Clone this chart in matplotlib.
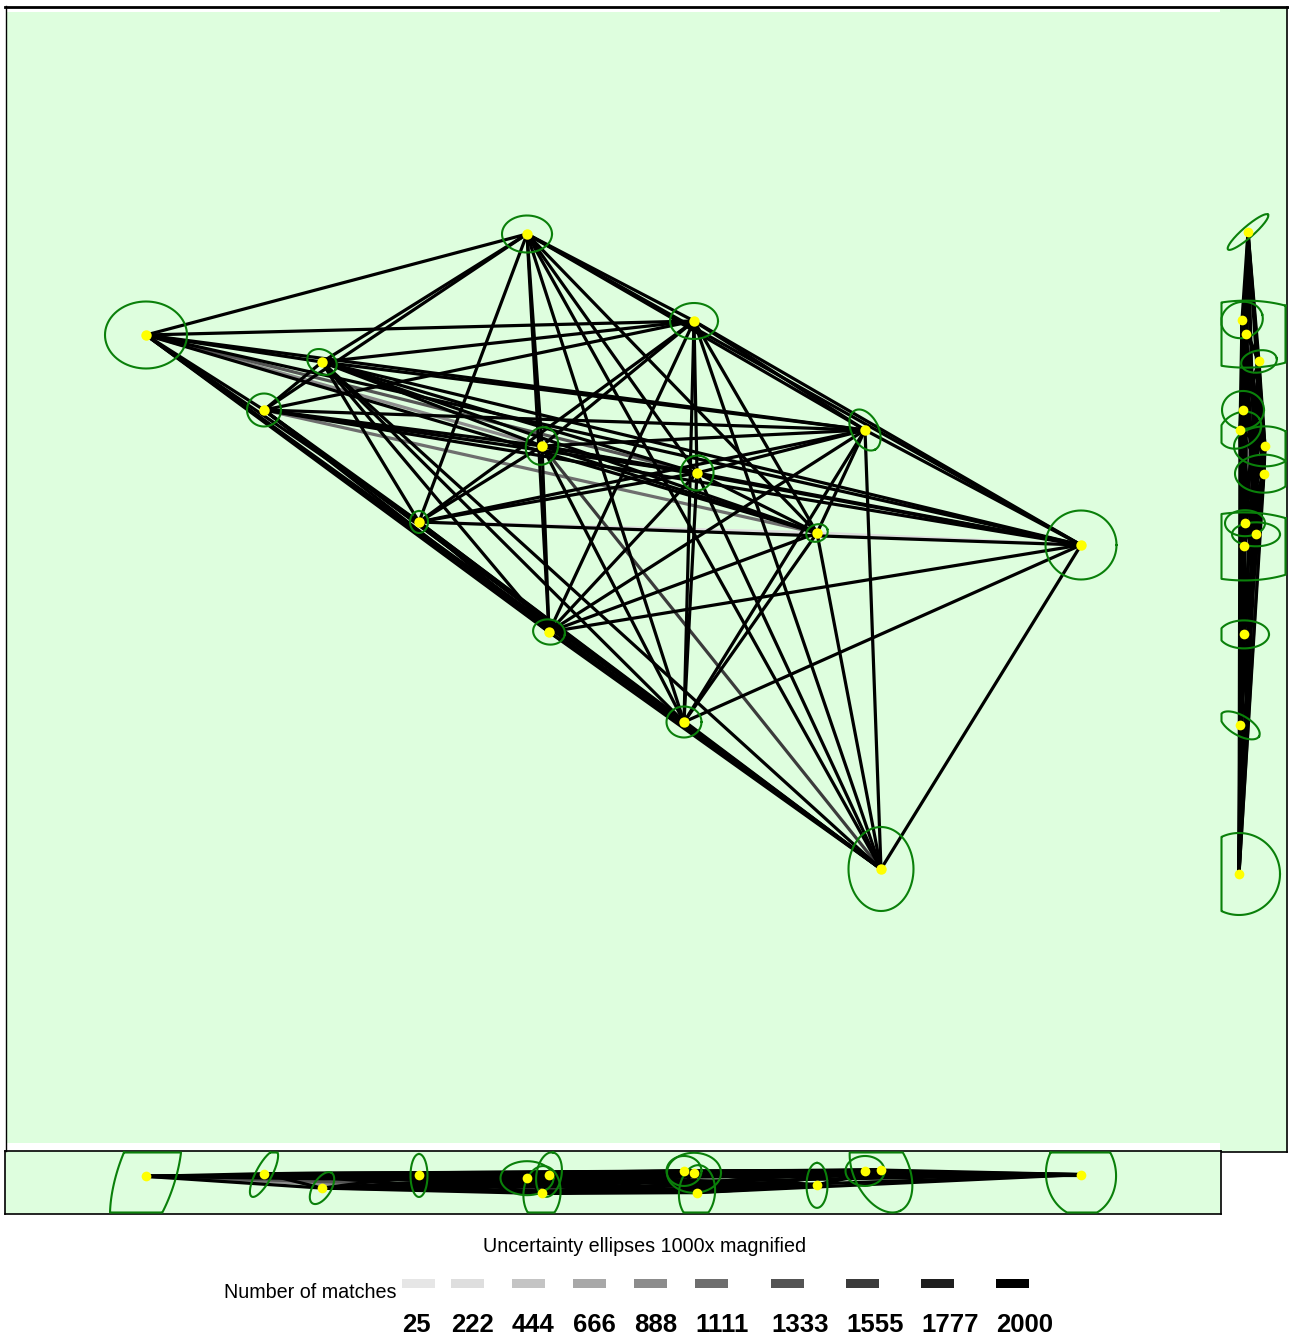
import itertools
import numpy as np
import matplotlib
matplotlib.use("Agg")
import matplotlib.pyplot as plt
from matplotlib.lines import Line2D
from matplotlib.patches import Rectangle
from matplotlib import font_manager

# ---------------- data ----------------
# camera positions (east, north, altitude) in plot units
cam_east = [527, 146, 694, 322, 264, 865, 542, 697, 419, 817, 1081, 549, 684, 881]
cam_north = [766, 665, 679, 638, 590, 570, 554, 527, 478, 467, 455, 368, 278, 131]
cam_alt = [17, 19, 23, 6, 22, 25, 0, 1, 20, 9, 21, 21, 25, 26]

# uncertainty ellipses (1000x magnified): major, minor, angle for each view
top_major = [50, 82, 48, 31, 34, 44, 38, 35, 22, 22, 71, 32, 35, 84]
top_minor = [37, 67, 36, 24, 33, 27, 32, 33, 18, 17, 69, 25, 31, 65]
top_angle = [0, 0, 0, -30, 0, -63, 75, 80, 90, 20, 0, -10, 0, 90]

side_major = [53, 150, 42, 36, 42, 45, 62, 58, 40, 48, 150, 50, 44, 82]
side_minor = [11, 67, 36, 22, 38, 34, 40, 38, 26, 24, 68, 28, 20, 82]
side_angle = [41, 0, 15, 10, 0, 30, 0, 0, 0, 0, 0, 0, -30, 0]

front_major = [53, 150, 54, 36, 52, 39, 55, 55, 43, 45, 84, 45, 35, 90]
front_minor = [34, 58, 40, 18, 16, 30, 37, 36, 17, 21, 70, 25, 30, 55]
front_angle = [0, 72, 0, 58, 62, 0, 85, 85, 90, 90, 95, 80, 0, -65]

# matched image pairs: every pair linked, with these pairs having fewer matches
pair_matches = {(2, 7): 888, (5, 10): 1111, (7, 14): 1555,
                (9, 10): 222, (10, 11): 222, (2, 8): 1333}
default_matches = 2000

legend_values = [25, 222, 444, 666, 888, 1111, 1333, 1555, 1777, 2000]
legend_grays = [0.90, 0.87, 0.77, 0.66, 0.55, 0.43, 0.33, 0.23, 0.12, 0.0]

# ---------------- figure ----------------
W, H = 1289, 1339
fig = plt.figure(figsize=(W / 100, H / 100), dpi=100)
BG = "#DEFEDE"
GREEN = "#0A800A"
plt.rcParams["font.family"] = ["Liberation Sans", "DejaVu Sans"]
installed = {f.name for f in font_manager.fontManager.ttflist}
num_family = ["Liberation Sans Narrow"] if "Liberation Sans Narrow" in installed else ["Liberation Sans"]
num_size = 21 if "Liberation Sans Narrow" in installed else 18.5


def rect(x0, y0, x1, y1):
    return [x0 / W, 1 - y1 / H, (x1 - x0) / W, (y1 - y0) / H]


ax_top = fig.add_axes(rect(6, 12, 1220, 1143))
ax_side = fig.add_axes(rect(1220, 7, 1287, 1152))
ax_front = fig.add_axes(rect(5, 1151, 1221, 1214))

ax_top.set_xlim(6, 1220)
ax_top.set_ylim(-143, 988)
ax_side.set_xlim(45, -22)
ax_side.set_ylim(-144, 988.6)
ax_front.set_xlim(5, 1221)
ax_front.set_ylim(-22.8, 47.2)

for ax in (ax_top, ax_side, ax_front):
    ax.set_facecolor(BG)
    ax.set_xticks([])
    ax.set_yticks([])
    for s in ax.spines.values():
        s.set_color("black")
        s.set_linewidth(1.2)

for s in ("top", "right", "bottom", "left"):
    ax_top.spines[s].set_visible(False)
ax_side.spines["left"].set_visible(False)
ax_side.spines["top"].set_visible(False)

# frame lines (figure pixels)
fig.add_artist(Line2D([5 / W, 1288 / W], [1 - 6.5 / H, 1 - 6.5 / H],
                      transform=fig.transFigure, color="black", lw=2.0))
fig.add_artist(Line2D([5.5 / W, 5.5 / W], [1 - 6 / H, 1 - 1151 / H],
                      transform=fig.transFigure, color="black", lw=1.0))

views = [
    (ax_top, cam_east, cam_north, top_major, top_minor, top_angle, 2.3, 7.5),
    (ax_side, cam_alt, cam_north, side_major, side_minor, side_angle, 2.3, 7),
    (ax_front, cam_east, cam_alt, front_major, front_minor, front_angle, 2.3, 7),
]

n = len(cam_east)
edges = []
for i, j in itertools.combinations(range(1, n + 1), 2):
    edges.append((i, j, pair_matches.get((i, j), default_matches)))
edges.sort(key=lambda e: e[2])  # fewer matches first, strongest on top


def edge_color(m):
    g = float(np.interp(m, legend_values, legend_grays))
    return (g, g, g)


def clip_polygon(pts, xmin, xmax, ymin, ymax):
    def clip(poly, inside, inter):
        out = []
        if not poly:
            return out
        prev = poly[-1]
        for cur in poly:
            if inside(cur):
                if not inside(prev):
                    out.append(inter(prev, cur))
                out.append(cur)
            elif inside(prev):
                out.append(inter(prev, cur))
            prev = cur
        return out

    def ix(x0):
        def f(p, q):
            t = (x0 - p[0]) / (q[0] - p[0])
            return (x0, p[1] + t * (q[1] - p[1]))
        return f

    def iy(y0):
        def f(p, q):
            t = (y0 - p[1]) / (q[1] - p[1])
            return (p[0] + t * (q[0] - p[0]), y0)
        return f

    poly = [tuple(p) for p in pts]
    poly = clip(poly, lambda p: p[0] >= xmin, ix(xmin))
    poly = clip(poly, lambda p: p[0] <= xmax, ix(xmax))
    poly = clip(poly, lambda p: p[1] >= ymin, iy(ymin))
    poly = clip(poly, lambda p: p[1] <= ymax, iy(ymax))
    return np.array(poly)


def draw_ellipse(ax, cx, cy, major, minor, ang):
    t = np.linspace(0, 2 * np.pi, 160, endpoint=False)
    a = np.deg2rad(ang)
    ex = major / 2 * np.cos(t)
    ey = minor / 2 * np.sin(t)
    dx = ex * np.cos(a) - ey * np.sin(a)
    dy = ex * np.sin(a) + ey * np.cos(a)
    c = ax.transData.transform((cx, cy))
    pts = np.column_stack([c[0] + dx, c[1] + dy])
    bb = ax.get_window_extent()
    pad = 1.5
    poly = clip_polygon(pts, bb.x0 + pad, bb.x1 - pad, bb.y0 + pad, bb.y1 - pad)
    if len(poly) < 2:
        return
    poly = np.vstack([poly, poly[:1]])
    d = ax.transData.inverted().transform(poly)
    ax.plot(d[:, 0], d[:, 1], color=GREEN, lw=1.5, zorder=3, clip_on=False)


for ax, xs, ys, maj, mino, ang, lw, ms in views:
    for i, j, m in edges:
        ax.plot([xs[i - 1], xs[j - 1]], [ys[i - 1], ys[j - 1]],
                color=edge_color(m), lw=lw, solid_capstyle="butt", zorder=2)
    for k in range(n):
        draw_ellipse(ax, xs[k], ys[k], maj[k], mino[k], ang[k])
    ax.plot(xs, ys, "o", color="#FFFF00", ms=ms, mec="none", zorder=4)

# ---------------- legend ----------------
fig.text(645 / W, 1 - 1247 / H, "Uncertainty ellipses 1000x magnified",
         ha="center", va="center", fontsize=14.2)
fig.text(396 / W, 1 - 1293 / H, "Number of matches",
         ha="right", va="center", fontsize=14.2)

legend_left = [402, 451, 512, 573, 634, 695, 771, 846, 921, 996]
for v, x in zip(legend_values, legend_left):
    fig.add_artist(Rectangle((x / W, 1 - 1288 / H), 33 / W, 9 / H,
                             transform=fig.transFigure,
                             color=edge_color(v), lw=0))
    fig.text(x / W, 1 - 1325 / H, str(v), ha="left", va="center",
             fontsize=num_size, fontweight="bold", family=num_family)

fig.savefig("out.png", dpi=100)
